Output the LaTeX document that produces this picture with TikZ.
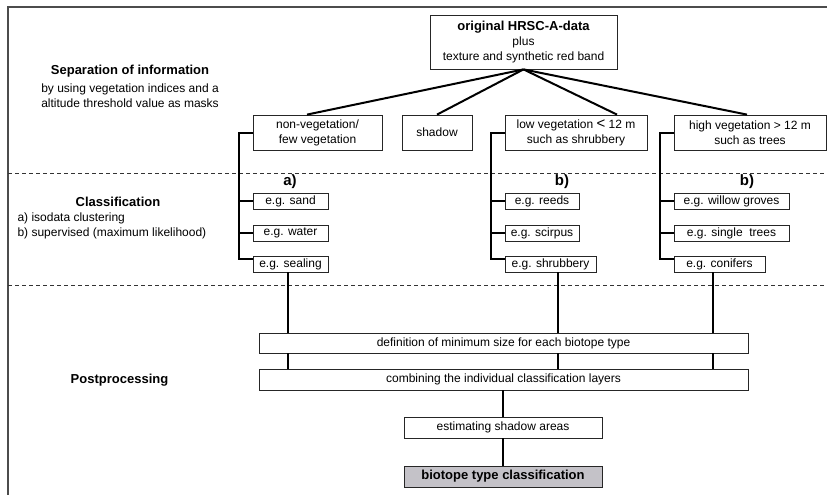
\documentclass[tikz,border=0pt]{standalone}
\usepackage{fontspec}
\setmainfont{Liberation Sans}
\definecolor{resultgray}{RGB}{196,194,200}
\begin{document}
\begin{tikzpicture}[
  x=1pt,
  y=-1pt,
  font=\fontsize{12}{15}\selectfont,
  box/.style={draw=black!85, line width=0.8pt, inner sep=0pt, align=center, minimum height=35},
  smallbox/.style={box, minimum height=16},
  flatbox/.style={box, minimum height=21},
  heading/.style={font=\fontsize{13}{15}\selectfont\bfseries},
  branchmark/.style={font=\fontsize{15}{15}\selectfont\bfseries},
  fan/.style={line width=2pt},
  bus/.style={line width=2pt},
  link/.style={line width=1.3pt},
  separator/.style={black!80, line width=0.9pt, dash pattern=on 4pt off 3pt}
]
\useasboundingbox (0,0) rectangle (827,495);

% frame and stage separators
\draw[black!70, line width=1.4pt] (827,7) -- (8,7) -- (8,495);
\draw[separator] (8,173) -- (827,173);
\draw[separator] (8,285) -- (827,285);

% stage captions
\node (sephead) [heading] at (130,71) {Separation of information};
\node (sepnote) [align=center] at (130,95.5) {by using vegetation indices and a\\altitude threshold value as masks};
\node (classhead) [heading] at (118,202) {Classification};
\node (classnote) [align=left, anchor=west] at (14,225.5) {a) isodata clustering\\b) supervised (maximum likelihood)};
\node (posthead) [heading] at (119.5,380) {Postprocessing};

% input data
\node (hrsc) [box, minimum width=187, minimum height=54] at (523.5,42)
  {{\fontsize{13}{15}\selectfont\bfseries original HRSC-A-data}\\plus\\texture and synthetic red band};

% masks
\node (nonveg) [box, minimum width=129] at (317.5,132.5) {non-vegetation/\\few vegetation};
\node (shadow) [box, minimum width=70] at (437,132.5) {shadow};
\node (lowveg) [box, minimum width=142] at (576,132.5) {low vegetation {\fontsize{15}{15}\selectfont<} 12 m\\such as shrubbery};
\node (highveg) [box, minimum width=152] at (750,132.5) {high vegetation > 12 m\\such as trees};

\draw[fan] (hrsc.south) -- ([xshift=-10.5]nonveg.north);
\draw[fan] (hrsc.south) -- (shadow.north);
\draw[fan] (hrsc.south) -- ([xshift=41]lowveg.north);
\draw[fan] (hrsc.south) -- ([xshift=-3]highveg.north);

% classes a)
\node (marka) [branchmark] at (290,182) {a)};
\node (sand) [smallbox, minimum width=75] at (290.5,201) {e.g. sand};
\node (water) [smallbox, minimum width=75] at (290.5,233) {e.g. water};
\node (sealing) [smallbox, minimum width=75] at (290.5,264) {e.g. sealing};
\draw[bus] (nonveg.west) -- ++(-14,0) |- ([yshift=5]sealing.west);
\draw[bus] (sand.west) -- ++(-14,0);
\draw[bus] (water.west) -- ++(-14,0);

% classes b) low
\node (markb) [branchmark] at (562,182) {b)};
\node (reeds) [smallbox, minimum width=74] at (542,201) {e.g. reeds};
\node (scirpus) [smallbox, minimum width=74] at (542,233) {e.g. scirpus};
\node (shrub) [smallbox, minimum width=91] at (550.5,264) {e.g. shrubbery};
\draw[bus] (lowveg.west) -- ++(-14,0) |- ([yshift=5]shrub.west);
\draw[bus] (reeds.west) -- ++(-14,0);
\draw[bus] (scirpus.west) -- ++(-14,0);

% classes b) high
\node (markc) [branchmark] at (747,182) {b)};
\node (willow) [smallbox, minimum width=115] at (731.5,201) {e.g. willow groves};
\node (single) [smallbox, minimum width=115] at (731.5,233) {e.g. single\ \ trees};
\node (conifer) [smallbox, minimum width=91] at (719.5,264) {e.g. conifers};
\draw[bus] (highveg.west) -- ++(-14,0) |- ([yshift=5]conifer.west);
\draw[bus] (willow.west) -- ++(-14,0);
\draw[bus] (single.west) -- ++(-14,0);

% postprocessing
\node (define) [box, minimum width=489, minimum height=20] at (503.5,343) {definition of minimum size for each biotope type};
\node (combine) [flatbox, minimum width=489] at (503.5,379.5) {combining the individual classification layers};
\node (estimate) [flatbox, minimum width=198] at (503,427.5) {estimating shadow areas};
\node (biotope) [flatbox, minimum width=198, fill=resultgray] at (503,476.5)
  {\fontsize{13}{15}\selectfont\bfseries biotope type classification};

\coordinate (dropa) at ([xshift=-2.5]sealing.south);
\coordinate (dropb) at ([xshift=7.5]shrub.south);
\coordinate (dropc) at ([xshift=-6.5]conifer.south);
\foreach \d in {dropa,dropb,dropc} {
  \draw[bus] (\d) -- (\d |- define.north);
  \draw[bus] (\d |- define.south) -- (\d |- combine.north);
}
\draw[link] (estimate.north |- combine.south) -- (estimate.north);
\draw[link] (estimate.south) -- (biotope.north);
\end{tikzpicture}
\end{document}
